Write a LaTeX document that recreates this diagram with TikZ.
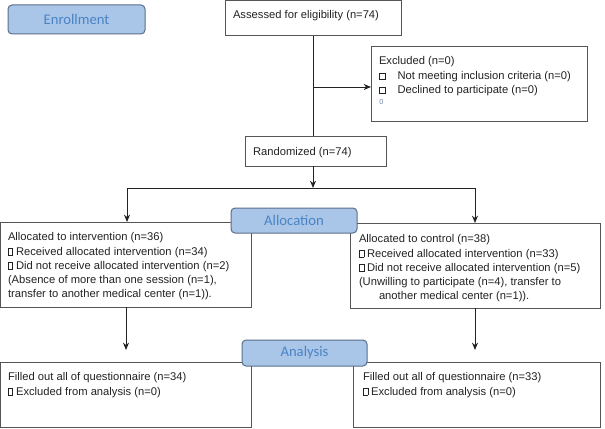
\documentclass[tikz,border=0pt]{standalone}
\usepackage{fontspec}
\setmainfont{Liberation Sans}
\newfontfamily\hdfont{Carlito}
\usetikzlibrary{arrows.meta,calc}
\definecolor{hdfill}{HTML}{A9C5E8}
\definecolor{hddraw}{HTML}{5A6E8A}
\definecolor{hdtext}{HTML}{4A84C4}
\definecolor{boxline}{HTML}{555555}
\definecolor{txtc}{HTML}{222222}
\definecolor{zeroc}{HTML}{7080A0}
\newcommand\tofu{{\setlength\fboxsep{0pt}\setlength\fboxrule{0.35pt}\fbox{\rule{0pt}{0.62em}\hspace{0.36em}}}}
\newcommand\sqbul{{\setlength\fboxsep{0pt}\setlength\fboxrule{0.35pt}\fbox{\rule{0pt}{0.5em}\hspace{0.5em}}}}
\begin{document}
\begin{tikzpicture}[x=0.75pt,y=-0.75pt,
  box/.style={draw=boxline,line width=0.75pt,inner sep=0pt,outer sep=0pt},
  hdr/.style={draw=hddraw,fill=hdfill,rounded corners=3pt,line width=0.75pt,text=hdtext,font=\hdfont\fontsize{11}{13}\selectfont,inner sep=0pt,outer sep=0pt},
  txt/.style={inner sep=0pt,outer sep=0pt,align=left,anchor=north west,text=txtc,font=\fontsize{8.4}{10.7}\selectfont,execute at begin node={\rule{0pt}{7pt}}},
  arr/.style={draw=txtc,line width=0.75pt,-{Stealth[length=5.5pt,width=4.5pt]}},
  ln/.style={draw=txtc,line width=0.75pt}]
\useasboundingbox (0,0) rectangle (605,428);
% boxes
\node[box,minimum width=132pt,minimum height=26.25pt] (assess) at (313,18.5) {};
\node[box,minimum width=162pt,minimum height=55.5pt] (excl) at (479,84) {};
\node[box,minimum width=105.75pt,minimum height=22.5pt] (rand) at (315.5,151) {};
\node[box,minimum width=187.9pt,minimum height=63.75pt] (a1) at (125.75,264.5) {};
\node[box,minimum width=187.5pt,minimum height=63.75pt] (a2) at (475,265.5) {};
\node[box,minimum width=187.9pt,minimum height=48.75pt] (b1) at (125.75,394.5) {};
\node[box,minimum width=185.25pt,minimum height=48.75pt] (b2) at (476.5,394.5) {};
% texts
\node[txt] (tassess) at (233,9.17) {Assessed for eligibility (n=74)};
\node[txt] (texcl) at (379,56.67) {Excluded (n=0)\\
\sqbul\hspace{9pt}Not meeting inclusion criteria (n=0)\\
\sqbul\hspace{9pt}Declined to participate (n=0)};
\node[inner sep=0pt,anchor=base west,text=zeroc,font=\fontsize{5.5}{6}\selectfont] (tzero) at (379,104.5) {0};
\node[txt] (trand) at (253,146.17) {Randomized (n=74)};
\node[txt] (ta1) at (8,232.67) {Allocated to intervention (n=36)\\
\tofu{} Received allocated intervention (n=34)\\
\tofu{} Did not receive allocated intervention (n=2)\\
(Absence of more than one session (n=1),\\
transfer to another medical center (n=1)).};
\node[txt] (ta2) at (359,234.67) {Allocated to control (n=38)\\
\tofu{} Received allocated intervention (n=33)\\
\tofu{} Did not receive allocated intervention (n=5)\\
(Unwilling to participate (n=4), transfer to\\
\hspace*{15pt}another medical center (n=1)).};
\node[txt] (tb1) at (8,372.67) {Filled out all of questionnaire (n=34)\\
\tofu{} Excluded from analysis (n=0)};
\node[txt] (tb2) at (363,372.67) {Filled out all of questionnaire (n=33)\\
\tofu{} Excluded from analysis (n=0)};
% connectors
\coordinate (j1) at (313,87);
\coordinate (bm) at (313,188);
\coordinate (bl) at (127,188);
\coordinate (br) at (475,188);
\coordinate (e1) at (126,350);
\coordinate (e2) at (475,350);
\draw[ln] (assess.south -| j1) -- (j1 |- rand.north);
\draw[arr] (j1) -- (j1 -| excl.west);
\draw[arr] (bm |- rand.south) -- (bm);
\draw[ln] (bl) -- (br);
\draw[arr] (bl) -- (bl |- a1.north);
\draw[arr] (br) -- (br |- a2.north);
\draw[arr] (e1 |- a1.south) -- (e1);
\draw[arr] (e2 |- a2.south) -- (e2);
% headers
\node[hdr,minimum width=102.75pt,minimum height=21.75pt] (enr) at (76.5,19.5) {Enrollment};
\node[hdr,minimum width=94.5pt,minimum height=18.75pt] (alloc) at (294,220.5) {Allocation};
\node[hdr,minimum width=93.75pt,minimum height=19.5pt] (anal) at (304.5,353) {Analysis};
\end{tikzpicture}
\end{document}
